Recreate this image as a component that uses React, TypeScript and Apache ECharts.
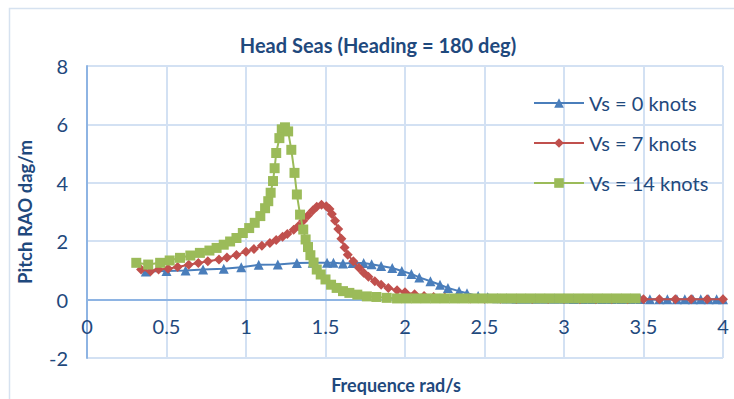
import React, { useEffect, useRef } from "react";
import * as echarts from "echarts";

const titleText = "Head Seas (Heading = 180 deg)";
const xAxisName = "Frequence rad/s";
const yAxisName = "Pitch RAO dag/m";
const seriesNames = ["Vs = 0 knots", "Vs = 7 knots", "Vs = 14 knots"];

const freq0 = [0.37, 0.5, 0.62, 0.73, 0.86, 0.97, 1.08, 1.2, 1.32, 1.42, 1.51, 1.55, 1.61, 1.67, 1.74, 1.79, 1.85, 1.92, 1.98, 2.04, 2.09, 2.16, 2.22, 2.27, 2.34, 2.39, 2.46, 2.52, 2.58, 2.64, 2.7, 2.76, 2.82, 2.88, 2.94, 3.0, 3.06, 3.12, 3.18, 3.24, 3.3, 3.36, 3.42, 3.48, 3.54, 3.6, 3.65, 3.71, 3.76, 3.81, 3.86, 3.91, 3.96, 4.0];
const rao0 = [0.96, 0.98, 1.0, 1.03, 1.06, 1.11, 1.19, 1.2, 1.25, 1.26, 1.26, 1.26, 1.24, 1.25, 1.25, 1.21, 1.15, 1.08, 0.98, 0.88, 0.76, 0.63, 0.51, 0.4, 0.29, 0.22, 0.12, 0.08, 0.05, 0.04, 0.03, 0.03, 0.03, 0.03, 0.03, 0.03, 0.02, 0.02, 0.02, 0.02, 0.02, 0.02, 0.02, 0.02, 0.01, 0.01, 0.01, 0.01, 0.01, 0.01, 0.01, 0.01, 0.01, 0.01];

const freq7 = [0.34, 0.4, 0.45, 0.51, 0.57, 0.64, 0.7, 0.76, 0.83, 0.88, 0.94, 1.0, 1.05, 1.1, 1.15, 1.19, 1.23, 1.26, 1.3, 1.33, 1.36, 1.39, 1.42, 1.445, 1.475, 1.505, 1.525, 1.54, 1.56, 1.58, 1.6, 1.62, 1.64, 1.675, 1.71, 1.74, 1.77, 1.81, 1.85, 1.895, 1.95, 2.0, 2.06, 2.12, 2.18, 2.25, 2.33, 2.41, 2.5, 2.6, 2.7, 2.8, 2.9, 3.0, 3.1, 3.2, 3.3, 3.4, 3.5, 3.6, 3.7, 3.8, 3.9, 4.0];
const rao7 = [1.03, 0.97, 1.03, 1.06, 1.12, 1.19, 1.25, 1.31, 1.37, 1.44, 1.53, 1.64, 1.73, 1.84, 1.94, 2.04, 2.15, 2.25, 2.39, 2.52, 2.7, 2.88, 3.05, 3.18, 3.25, 3.2, 3.1, 2.93, 2.7, 2.42, 2.08, 1.78, 1.54, 1.31, 1.09, 0.92, 0.78, 0.63, 0.51, 0.4, 0.32, 0.25, 0.18, 0.12, 0.09, 0.07, 0.05, 0.04, 0.03, 0.03, 0.02, 0.02, 0.02, 0.02, 0.01, 0.01, 0.01, 0.01, 0.01, 0.01, 0.01, 0.01, 0.01, 0.01];

const freq14 = [0.31, 0.385, 0.46, 0.52, 0.585, 0.65, 0.71, 0.77, 0.815, 0.86, 0.9, 0.94, 0.98, 1.02, 1.055, 1.09, 1.12, 1.14, 1.155, 1.17, 1.18, 1.19, 1.21, 1.225, 1.245, 1.265, 1.285, 1.305, 1.32, 1.34, 1.36, 1.375, 1.39, 1.405, 1.425, 1.445, 1.47, 1.5, 1.535, 1.57, 1.61, 1.65, 1.7, 1.76, 1.82, 1.885, 1.95, 2.01, 2.07, 2.13, 2.19, 2.25, 2.31, 2.37, 2.43, 2.49, 2.55, 2.61, 2.67, 2.73, 2.79, 2.85, 2.91, 2.97, 3.03, 3.09, 3.15, 3.21, 3.27, 3.33, 3.39, 3.45];
const rao14 = [1.26, 1.2, 1.26, 1.34, 1.43, 1.51, 1.6, 1.68, 1.77, 1.88, 1.99, 2.11, 2.28, 2.45, 2.63, 2.86, 3.13, 3.37, 3.66, 4.06, 4.5, 5.02, 5.53, 5.83, 5.9, 5.76, 5.13, 4.34, 3.6, 2.91, 2.4, 2.06, 1.8, 1.52, 1.27, 1.03, 0.86, 0.69, 0.51, 0.4, 0.29, 0.23, 0.17, 0.11, 0.09, 0.06, 0.04, 0.04, 0.04, 0.04, 0.04, 0.04, 0.04, 0.04, 0.04, 0.04, 0.04, 0.04, 0.04, 0.04, 0.04, 0.04, 0.04, 0.04, 0.04, 0.04, 0.04, 0.04, 0.04, 0.04, 0.04, 0.04];

const FONT = "Lato, 'Noto Sans', sans-serif";
const TEXT = "#1F497D";

function pairs(xs: number[], ys: number[]) {
  return xs.map((x, i) => [x, ys[i]]);
}

export default function App() {
  const ref = useRef<HTMLDivElement>(null);
  useEffect(() => {
    if (!ref.current) return;
    const chart = echarts.init(ref.current, null, { renderer: "svg" });
    const colors = ["#4A7EBB", "#C0504D", "#9BBB59"];
    const symbols = ["triangle", "diamond", "rect"];
    const sizes = [10, 10, 10];
    const data = [pairs(freq0, rao0), pairs(freq7, rao7), pairs(freq14, rao14)];
    chart.setOption({
      animation: false,
      backgroundColor: "#ffffff",
      textStyle: { fontFamily: FONT },
      title: {
        text: titleText,
        left: 373,
        top: 30,
        textAlign: "center",
        textStyle: { fontFamily: FONT, fontSize: 20, fontWeight: "bold", color: TEXT },
      },
      graphic: [
        {
          type: "rect",
          shape: { x: 9.5, y: 8.5, width: 800, height: 500 },
          style: { fill: "none", stroke: "#D6E2F0", lineWidth: 1.5 },
          silent: true,
          z: -10,
        },
      ],
      legend: {
        orient: "vertical",
        left: 533,
        top: 93,
        itemWidth: 50,
        itemHeight: 12,
        itemGap: 20,
        padding: 0,
        data: seriesNames,
        textStyle: { fontFamily: FONT, fontSize: 20, color: TEXT, lineHeight: 20, padding: [0, 0, 0, 0] },
      },
      grid: { left: 87, right: 11, top: 66, bottom: 41, containLabel: false, outerBoundsMode: "none" },
      xAxis: {
        type: "value",
        min: 0,
        max: 4,
        interval: 0.5,
        offset: -58.4,
        name: xAxisName,
        nameLocation: "middle",
        nameGap: 76,
        nameTextStyle: { fontFamily: FONT, fontSize: 18, fontWeight: "bold", color: TEXT, padding: [0, 18, 0, 0] },
        axisLine: { show: true, onZero: false, lineStyle: { color: "#8EB4E3", width: 2 } },
        axisTick: { show: false },
        axisLabel: { fontFamily: FONT, fontSize: 20, color: TEXT, margin: 16 },
        splitLine: { show: true, lineStyle: { color: "#D3E1F3", width: 2 } },
      },
      yAxis: {
        type: "value",
        min: -2,
        max: 8,
        interval: 2,
        name: yAxisName,
        nameLocation: "middle",
        nameGap: 53,
        nameTextStyle: { fontFamily: FONT, fontSize: 18.5, fontWeight: "bold", color: TEXT },
        axisLine: { show: true, lineStyle: { color: "#8EB4E3", width: 2 } },
        axisTick: { show: false },
        axisLabel: { fontFamily: FONT, fontSize: 20, color: TEXT, margin: 19 },
        splitLine: { show: true, lineStyle: { color: "#D3E1F3", width: 2 } },
      },
      series: seriesNames.map((name, i) => ({
        name,
        type: "line",
        data: data[i],
        symbol: symbols[i],
        symbolSize: sizes[i],
        showSymbol: true,
        color: colors[i],
        lineStyle: { color: colors[i], width: 2 },
        itemStyle: { color: colors[i] },
        z: 2 + i,
      })),
    });
    return () => chart.dispose();
  }, []);
  return (
    <div
      ref={ref}
      style={{ position: "fixed", left: 0, top: 0, width: 734, height: 399 }}
    />
  );
}
